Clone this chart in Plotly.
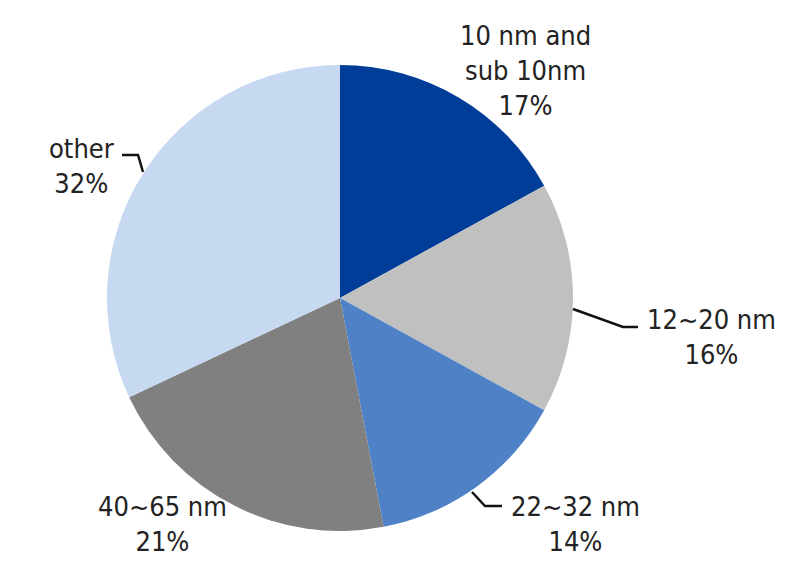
import plotly.graph_objects as go

categories = ["10 nm and sub 10nm", "12~20 nm", "22~32 nm", "40~65 nm", "other"]
label_text = ["10 nm and<br>sub 10nm<br>17%", "12~20 nm<br>16%", "22~32 nm<br>14%", "40~65 nm<br>21%", "other<br>32%"]
shares = [17, 16, 14, 21, 32]
colors = ["#003d99", "#c0c0c0", "#4f81c6", "#808080", "#c6d9f1"]

W, H = 800, 577
OFF = 8  # page body margin in the screenshot
# pie geometry (pixels, screenshot coordinates)
CX, CY, R = 340, 298, 233

def px(x):
    return (x - OFF) / W

def py(y):
    return 1 - (y - OFF) / H

# label centers (pixels)
label_pos = [(525, 71), (711, 337), (575, 524), (162, 524), (81, 166)]
# leader lines (pixels), None where absent
leaders = [None,
           [(573, 309), (623, 327), (638, 327)],
           [(472, 492), (485, 506), (502, 506)],
           None,
           [(143, 172), (138, 155), (122, 155)]]

fig = go.Figure(go.Pie(
    labels=categories,
    values=shares,
    sort=False,
    direction="clockwise",
    rotation=0,
    marker=dict(colors=colors, line=dict(width=0)),
    textinfo="none",
    showlegend=False,
    domain=dict(x=[px(CX - R), px(CX + R)], y=[py(CY + R), py(CY - R)]),
))

FONT = dict(family="DejaVu Sans Condensed, DejaVu Sans, sans-serif", size=27, color="#222222")
for txt, (x, y) in zip(label_text, label_pos):
    fig.add_annotation(x=px(x), y=py(y), xref="paper", yref="paper", text=txt,
                       showarrow=False, font=FONT, align="center",
                       xanchor="center", yanchor="middle")

for pts in leaders:
    if pts is None:
        continue
    path = "M " + " L ".join(f"{px(x)},{py(y)}" for x, y in pts)
    fig.add_shape(type="path", path=path, xref="paper", yref="paper",
                  line=dict(color="#111111", width=2.5))

fig.update_layout(width=W, height=H, margin=dict(l=0, r=0, t=0, b=0),
                  paper_bgcolor="white", plot_bgcolor="white")
fig.write_html("out.html")
